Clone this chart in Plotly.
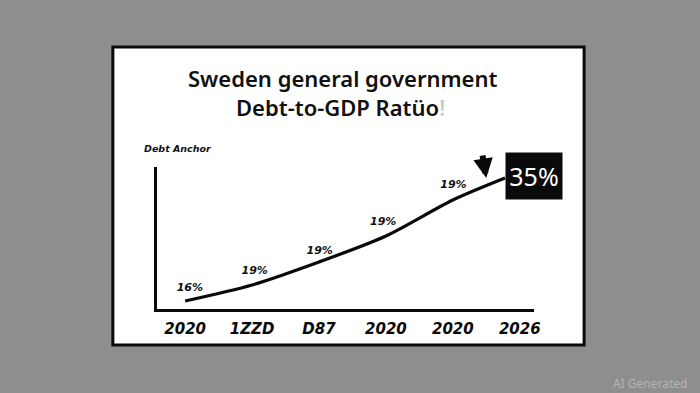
import plotly.graph_objects as go

# ---- data ----
tick_pos = [0, 1, 2, 3, 4, 5]
tick_labels = ["2020", "1ZZD", "D87", "2020", "2020", "2026"]

line_x = [0, 1, 2, 3, 4, 4.78]
line_y = [8, 24, 47, 73, 109, 131]

label_x = [0.07, 1.04, 2.01, 2.96, 4.01]
label_y = [21, 38, 58, 87, 124]
label_text = ["16%", "19%", "19%", "19%", "19%"]

end_label = "35%"
arrow_x = [4.5]
arrow_y = [131]

W, H = 700, 393

def px(x):
    return x / W

def py(y):
    return 1 - y / H

fig = go.Figure()

fig.add_trace(go.Scatter(
    x=line_x, y=line_y, mode="lines",
    line=dict(color="#0a0a0a", width=3.2, shape="spline", smoothing=0.8),
    hoverinfo="skip", showlegend=False,
))

fig.add_trace(go.Scatter(
    x=label_x, y=label_y, mode="text", text=label_text,
    textfont=dict(family="DejaVu Sans", size=11, color="#111",
                  style="italic", weight="bold"),
    hoverinfo="skip", showlegend=False,
))

# down arrow
fig.add_annotation(
    x=arrow_x[0], y=arrow_y[0], xref="x", yref="y",
    ax=-4, ay=-24, text="", showarrow=True,
    arrowhead=2, arrowsize=0.65, arrowwidth=6, arrowcolor="#0a0a0a",
)

fig.add_annotation(
    x=line_x[-1], y=line_y[-1] + 2, xref="x", yref="y",
    text=end_label, showarrow=False, xanchor="left", yanchor="middle",
    bgcolor="#0a0a0a", width=56, height=46, borderpad=0,
    font=dict(family="Noto Sans", size=25, color="white"),
)

# card
fig.add_shape(type="rect", xref="paper", yref="paper",
              x0=px(114), x1=px(590), y0=py(345), y1=py(47),
              fillcolor="white", line=dict(color="#0a0a0a", width=3),
              layer="below")

# title
fig.add_annotation(x=px(346), y=py(78), xref="paper", yref="paper",
                   text="Sweden general government", showarrow=False,
                   xanchor="center", yanchor="middle",
                   font=dict(family="Noto Sans", size=22, color="#111", weight=600))
fig.add_annotation(x=px(344), y=py(107), xref="paper", yref="paper",
                   text="Debt-to-GDP Ratüo<span style='color:#c8c8c8'>!</span>",
                   showarrow=False, xanchor="center", yanchor="middle",
                   font=dict(family="Noto Sans", size=22, color="#111", weight=600))

fig.add_annotation(x=px(143), y=py(148), xref="paper", yref="paper",
                   text="Debt Anchor", showarrow=False,
                   xanchor="left", yanchor="middle",
                   font=dict(family="DejaVu Sans", size=9.5, color="#111",
                             style="italic", weight="bold"))

fig.add_annotation(x=px(696), y=py(383), xref="paper", yref="paper",
                   text="AI Generated", showarrow=False,
                   xanchor="right", yanchor="middle",
                   font=dict(family="Noto Sans", size=12, color="#b4b4b4"))

x0_px, x1_px = 159, 539
unit = 67.6
fig.update_layout(
    width=W, height=H,
    margin=dict(l=0, r=0, t=0, b=0),
    paper_bgcolor="#8e8e8e",
    plot_bgcolor="rgba(0,0,0,0)",
    xaxis=dict(
        domain=[px(x0_px), px(x1_px)],
        range=[(x0_px - 187) / unit, (x1_px - 187) / unit],
        tickvals=tick_pos, ticktext=tick_labels,
        showgrid=False, zeroline=False, showline=True,
        linecolor="#0a0a0a", linewidth=2.5, ticks="",
        ticklabelstandoff=4,
        tickfont=dict(family="DejaVu Sans", size=15, color="#0a0a0a",
                      style="italic", weight="bold"),
    ),
    yaxis=dict(
        domain=[py(309), py(167)],
        range=[0, 142],
        showgrid=False, zeroline=False, showline=True,
        linecolor="#0a0a0a", linewidth=2.5, ticks="",
        showticklabels=False,
    ),
    showlegend=False,
)

fig.write_html(
    "out.html",
    config={"displayModeBar": False},
    post_script="document.body.style.margin='0';document.body.style.overflow='hidden';",
)
